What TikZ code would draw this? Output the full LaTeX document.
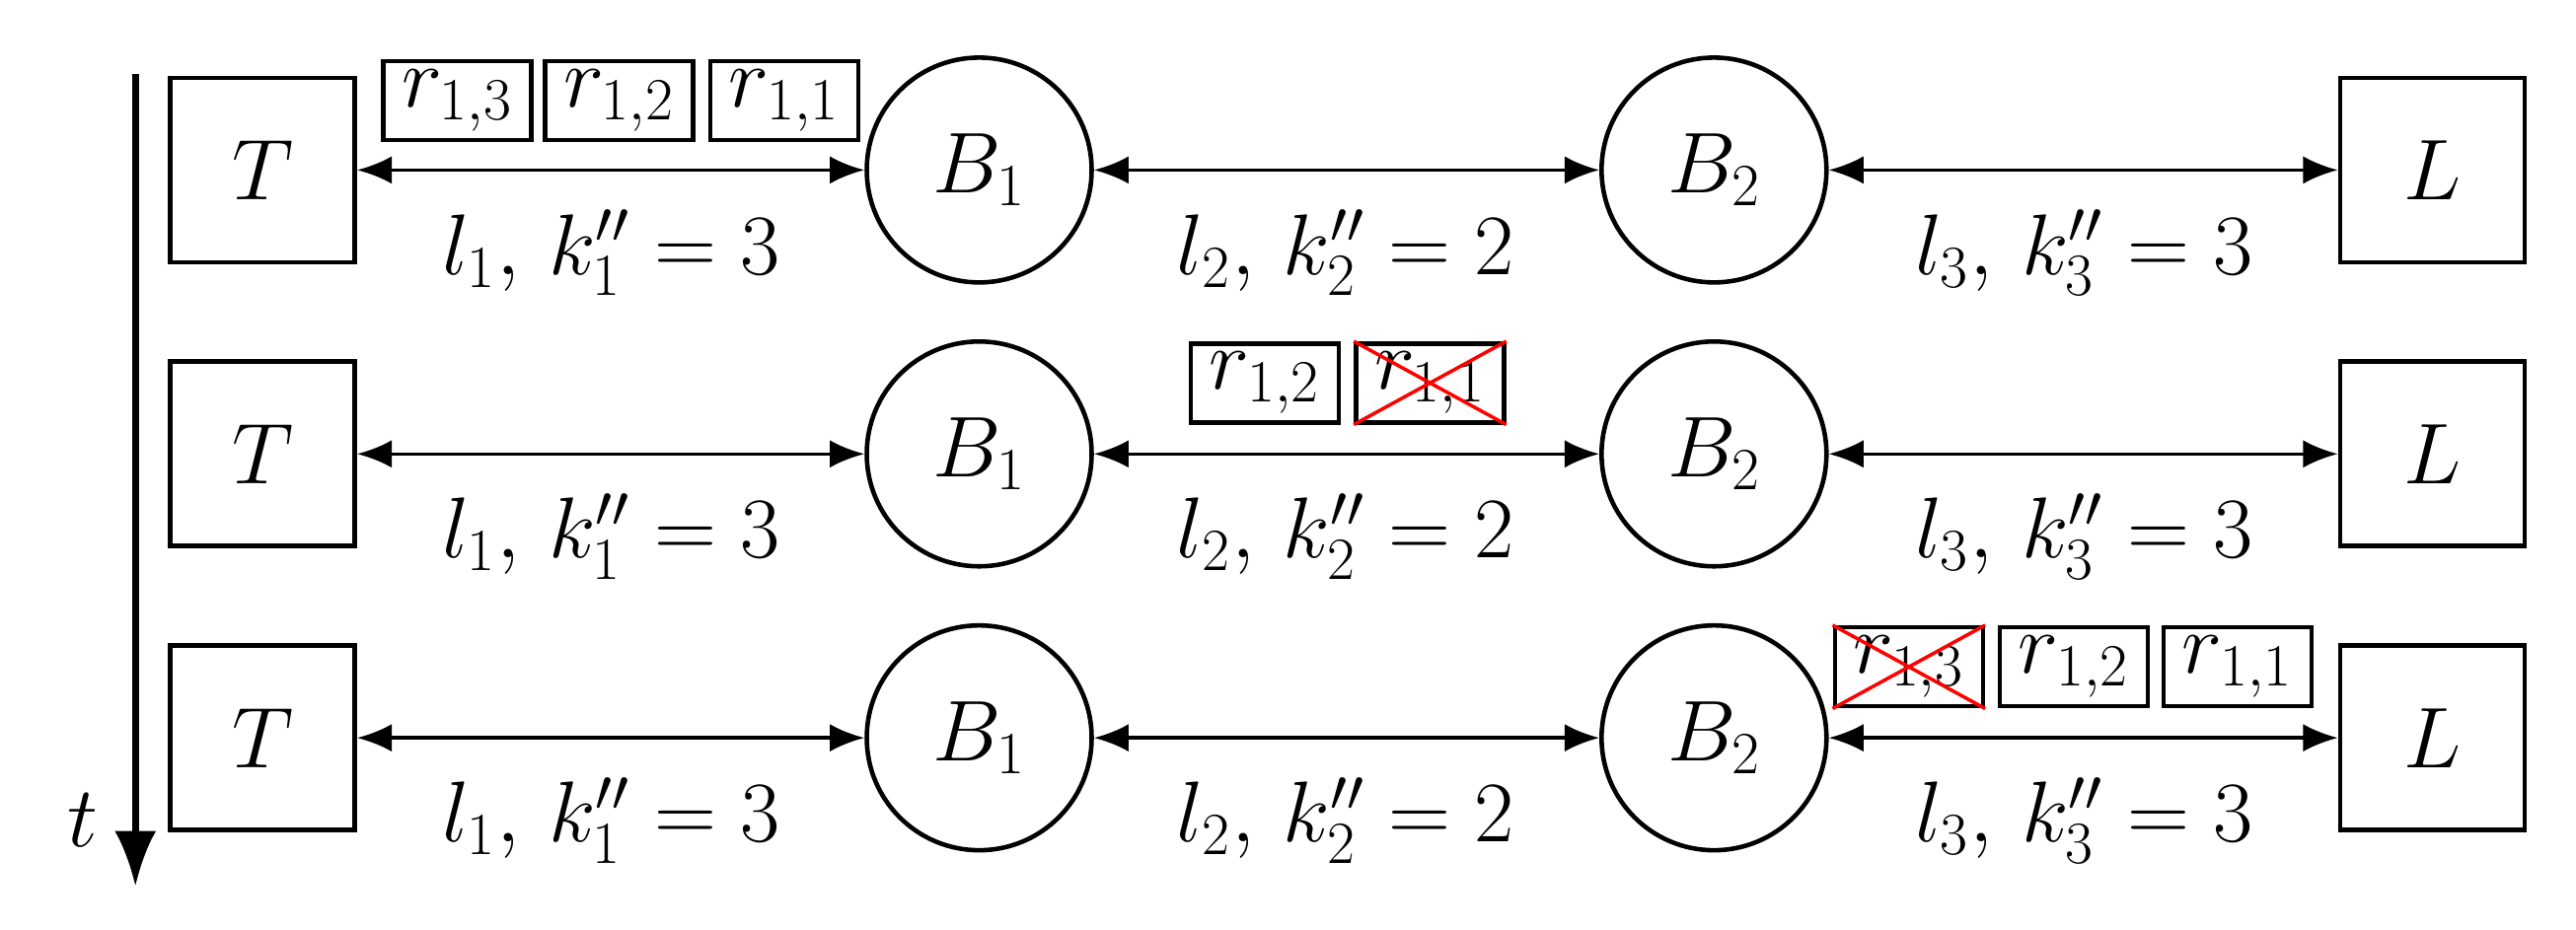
\documentclass[tikz,border=0pt]{standalone}
\usetikzlibrary{arrows.meta}
\begin{document}
\begin{tikzpicture}[x=0.01674cm,y=-0.01674cm,
  font=\fontsize{27}{32}\selectfont,
  box/.style={draw,line width=1.3pt,minimum size=1.87cm,inner sep=0},
  bus/.style={draw,circle,line width=1.3pt,minimum size=2.28cm,inner sep=0},
  pk/.style={draw,line width=1.3pt,minimum width=1.5cm,minimum height=0.8cm,inner sep=0,font=\fontsize{23}{27}\selectfont},
  lk/.style={line width=1pt,{Latex[length=10pt,width=8pt]}-{Latex[length=10pt,width=8pt]}},
  cross/.style={red,line width=1pt}]
\useasboundingbox (0,0) rectangle (1560,563);
\foreach \r/\y in {1/103,2/275,3/447}{
  \node[box] (T\r) at (159,\y) {$T$};
  \node[bus] (A\r) at (593,\y) {$B_1$};
  \node[bus] (C\r) at (1038,\y) {$B_2$};
  \node[box] (L\r) at (1473,\y) {$L$};
  \draw[lk] (T\r) -- (A\r);
  \draw[lk] (A\r) -- (C\r);
  \draw[lk] (C\r) -- (L\r);
  \node (la\r) at (370,\y+50) {$l_1,\,k''_1=3$};
  \node (lb\r) at (815,\y+50) {$l_2,\,k''_2=2$};
  \node (lc\r) at (1262,\y+50) {$l_3,\,k''_3=3$};
}
\node[pk] (p13) at (277,61) {$r_{1,3}$};
\node[pk] (p12) at (375,61) {$r_{1,2}$};
\node[pk] (p11) at (475,61) {$r_{1,1}$};
\node[pk] (q12) at (766,232) {$r_{1,2}$};
\node[pk] (q11) at (866,232) {$r_{1,1}$};
\draw[cross] (q11.north west) -- (q11.south east) (q11.south west) -- (q11.north east);
\node[pk] (s13) at (1156,404) {$r_{1,3}$};
\node[pk] (s12) at (1256,404) {$r_{1,2}$};
\node[pk] (s11) at (1355,404) {$r_{1,1}$};
\draw[cross] (s13.north west) -- (s13.south east) (s13.south west) -- (s13.north east);
\coordinate (t0) at (82,45);
\coordinate (t1) at (82,537);
\draw[line width=2pt,-{Latex[length=16pt,width=12pt]}] (t0) -- (t1);
\node (t) at (50,497) {$t$};
\end{tikzpicture}
\end{document}
